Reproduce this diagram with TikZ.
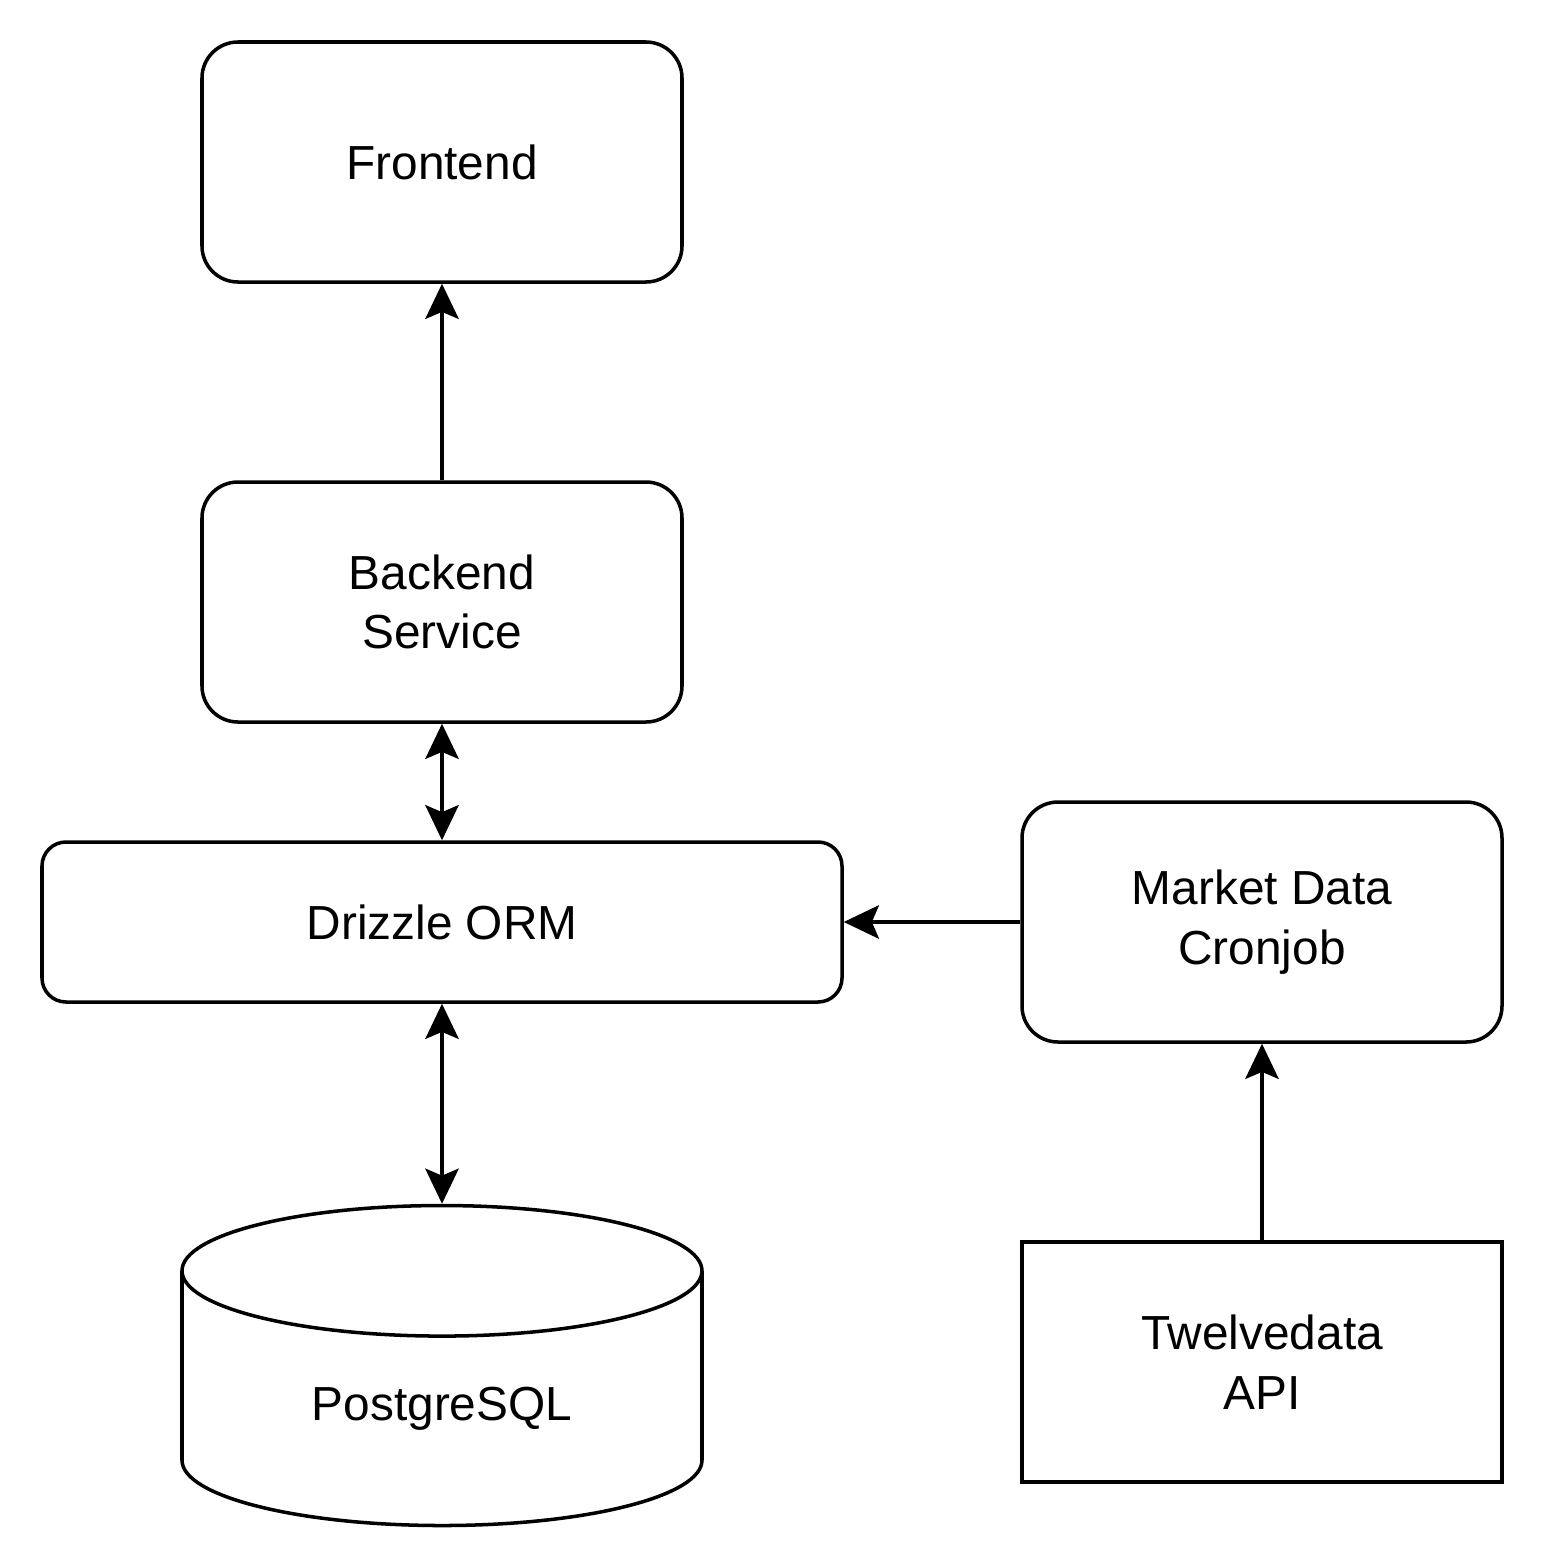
\documentclass[tikz,border=0pt]{standalone}
\usepackage{fontspec}
\setmainfont{Liberation Sans}
\usetikzlibrary{arrows.meta, positioning, shapes.geometric}

\begin{document}
\begin{tikzpicture} [%
    node distance = 4.4cm,
    on grid,
    >= {Stealth[length=10pt, width=9.5pt, inset=2pt]},
    line width = 1pt,
    font = \fontsize{13.6}{17}\selectfont,
    every node/.style = {align = center},
    service/.style = {%
      draw, rounded corners = 0.36cm,
      minimum width = 4.8cm, minimum height = 2.4cm },
    orm/.style = {%
      draw, rounded corners = 0.24cm,
      minimum width = 8cm, minimum height = 1.6cm },
    database/.style = {%
      draw, cylinder, shape border rotate = 90, aspect = 0.46,
      minimum width = 5.2cm, minimum height = 3.2cm },
    external/.style = {%
      draw, minimum width = 4.8cm, minimum height = 2.4cm }
  ]

\useasboundingbox (0,0) rectangle (15.44,-15.64);

\node[service]  (frontend) at (4.42,-1.62) {Frontend};
\node[service]  (backend)  [below=of frontend] {Backend\\Service};
\node[orm]      (drizzle)  [below=3.2cm of backend] {Drizzle ORM};
\node[service]  (cronjob)  [right=8.2cm of drizzle] {Market Data\\Cronjob};
\node[database, anchor=top] (postgres) at ([yshift=-2cm]drizzle.south) {PostgreSQL};
\node[external] (twelve)   [below=of cronjob] {Twelvedata\\API};

\path[->]
(backend) edge (frontend)
(cronjob) edge (drizzle)
(twelve) edge (cronjob);

\path[<->]
(backend) edge (drizzle)
(drizzle) edge (postgres);

\end{tikzpicture}
\end{document}
